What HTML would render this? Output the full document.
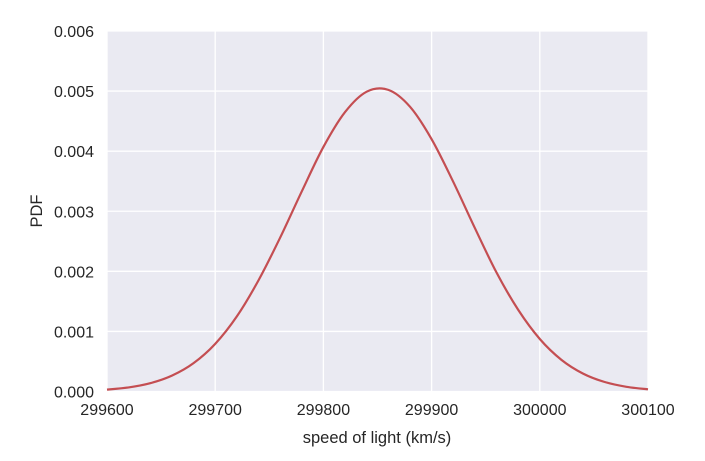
<!DOCTYPE html>
<html><head><meta charset="utf-8"><style>
body{margin:0;background:#fff;width:705px;height:456px;overflow:hidden}
text{font-family:"Liberation Sans",sans-serif;fill:#262626}
</style></head><body>
<svg id="chart" width="705" height="456" xmlns="http://www.w3.org/2000/svg">
<rect x="107" y="31" width="541" height="361" fill="#EAEAF2"/>
<g id="grid"></g><g id="ticks"></g><g id="series"></g>
<text x="377" y="443" font-size="16.5" text-anchor="middle">speed of light (km/s)</text>
<text transform="translate(42,211) rotate(-90)" font-size="16.5" text-anchor="middle">PDF</text>
</svg>
<script>
const xs=[299600,299620,299640,299660,299680,299700,299720,299740,299760,299780,299800,299820,299840,299860,299880,299900,299920,299940,299960,299980,300000,300020,300040,300060,300080,300100];
const pdf=[0.0000311,0.0000677,0.000138,0.000264,0.000472,0.000793,0.00125,0.00185,0.00256,0.00333,0.00407,0.00465,0.00499,0.00502,0.00474,0.00420,0.00349,0.00272,0.00198,0.00136,0.000874,0.000527,0.000298,0.000158,0.0000784,0.0000366];
const xTicks=[299600,299700,299800,299900,300000,300100];
const yTicks=[0,0.001,0.002,0.003,0.004,0.005,0.006];
const NS="http://www.w3.org/2000/svg";
const L=107,R=648,T=31,B=391.5;
const sx=v=>L+(v-299600)/500*(R-L);
const sy=v=>B-v/0.006*(B-T);
const grid=document.getElementById('grid'),ticks=document.getElementById('ticks'),series=document.getElementById('series');
function mk(tag,attrs,parent){const e=document.createElementNS(NS,tag);for(const k in attrs)e.setAttribute(k,attrs[k]);parent.appendChild(e);return e;}
xTicks.forEach(v=>{
  const g=mk('line',{x1:sx(v),x2:sx(v),y1:T,y2:B,stroke:'#fff','stroke-width':1.3},grid);
  
  
  const t=mk('text',{x:sx(v),y:415,'font-size':16,'text-anchor':'middle'},ticks);
  t.textContent=v;
  
  
});
yTicks.forEach(v=>{
  const g=mk('line',{x1:L,x2:R,y1:sy(v),y2:sy(v),stroke:'#fff','stroke-width':1.3},grid);
  
  
  const t=mk('text',{x:94,y:sy(v)+6,'font-size':16,'text-anchor':'end'},ticks);
  t.textContent=v.toFixed(3);
  
  
});
const P=xs.map((x,i)=>[sx(x),sy(pdf[i])]);
let d='M'+P[0][0]+','+P[0][1];
for(let i=0;i<P.length-1;i++){
  const p0=P[Math.max(0,i-1)],p1=P[i],p2=P[i+1],p3=P[Math.min(P.length-1,i+2)];
  const c1=[p1[0]+(p2[0]-p0[0])/6,p1[1]+(p2[1]-p0[1])/6];
  const c2=[p2[0]-(p3[0]-p1[0])/6,p2[1]-(p3[1]-p1[1])/6];
  d+=' C'+c1+' '+c2+' '+p2;
}
const path=mk('path',{d:d,fill:'none',stroke:'#C44E52','stroke-width':2.2},series);


</script>
</body></html>
